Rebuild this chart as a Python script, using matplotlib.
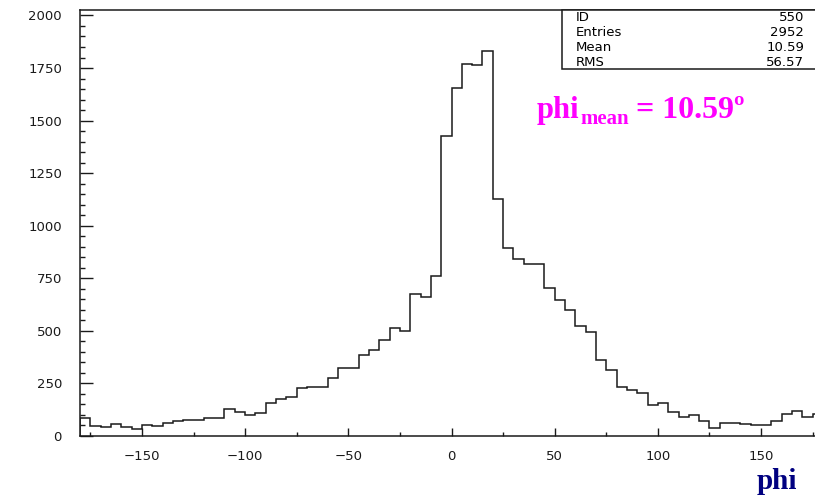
import matplotlib

matplotlib.use("Agg")

import matplotlib.pyplot as plt
import numpy as np
from matplotlib.patches import Rectangle
from matplotlib.ticker import MultipleLocator

# phi histogram, 5 degree bins from -180 to 180
bin_lo = -180
bin_width = 5
counts = [
    84, 48, 41, 57, 45, 33, 52, 48, 64, 72, 76, 76,
    87, 86, 130, 113, 100, 108, 157, 176, 185, 226, 231, 231,
    278, 322, 324, 387, 407, 456, 512, 501, 675, 660, 761, 1429,
    1655, 1769, 1766, 1830, 1127, 893, 840, 816, 820, 703, 649, 601,
    522, 493, 363, 315, 235, 220, 204, 146, 156, 113, 92, 100,
    73, 40, 60, 60, 56, 51, 51, 70, 104, 121, 89, 104,
]
stat_names = ["ID", "Entries", "Mean", "RMS"]
stat_values = ["550", "2952", "10.59", "56.57"]
phi_mean = "10.59"

W, H = 815, 496
fig = plt.figure(figsize=(W / 100, H / 100), dpi=100)
fig.patch.set_facecolor("white")


def px(x, y):
    # pixel position (from top-left) -> figure fraction
    return x / W, 1 - y / H


ax = fig.add_axes([80 / W, 60 / H, 743 / W, 426 / H])
edges = bin_lo + bin_width * np.arange(len(counts) + 1)
ax.stairs(counts, edges, color="#1a1a1a", linewidth=1.1, baseline=0)

ax.set_xlim(-180, 180)
ax.set_ylim(0, 2026)
ax.xaxis.set_major_locator(MultipleLocator(50))
ax.xaxis.set_minor_locator(MultipleLocator(25))
ax.yaxis.set_major_locator(MultipleLocator(250))
ax.yaxis.set_minor_locator(MultipleLocator(50))
ax.tick_params(axis="both", which="both", direction="in", colors="#1a1a1a",
               labelsize=9.5, width=1.0)
ax.tick_params(axis="y", which="major", length=9.5, pad=13)
ax.tick_params(axis="y", which="minor", length=3.8)
ax.tick_params(axis="x", which="major", length=5.5, pad=10)
ax.tick_params(axis="x", which="minor", length=3)
ax.tick_params(top=False, right=False, which="both")
for side in ["left", "bottom", "top", "right"]:
    ax.spines[side].set_linewidth(1.1)
    ax.spines[side].set_color("#1a1a1a")

# statistics box in the top-right corner (cut by the image edge like the original)
x0, y0 = px(562, 69)
fig.add_artist(Rectangle((x0, y0), 0.35, 59 / H, transform=fig.transFigure,
                         facecolor="white", edgecolor="#1a1a1a", linewidth=1.1,
                         zorder=5))
row_y = [17.5, 32.5, 47.5, 62.5]
for name, val, yy in zip(stat_names, stat_values, row_y):
    fig.text(*px(576, yy), name, fontsize=9.5, ha="left", va="center", zorder=6)
    fig.text(*px(804, yy), val, fontsize=9.5, ha="right", va="center", zorder=6)

# magenta annotation: phi_mean = 10.59º, built from three pieces
serif = "Liberation Serif"
renderer = fig.canvas.get_renderer()
bx, by = px(537, 118)
t1 = fig.text(bx, by, "phi", color="#ff00ff", fontsize=22, fontweight="bold",
              family=serif, ha="left", va="baseline")
e1 = t1.get_window_extent(renderer)
t2 = fig.text((e1.x1 + 0.5) / W, by - 6 / H, "mean", color="#ff00ff", fontsize=15,
              fontweight="bold", family=serif, ha="left", va="baseline")
e2 = t2.get_window_extent(renderer)
fig.text((e2.x1 + 7) / W, by, "= " + phi_mean + "º", color="#ff00ff", fontsize=23,
         fontweight="bold", family=serif, ha="left", va="baseline")

# axis title at bottom right
fig.text(*px(797, 489), "phi", color="#000080", fontsize=21, fontweight="bold",
         family=serif, ha="right", va="baseline")

fig.savefig("out.png", dpi=100)
